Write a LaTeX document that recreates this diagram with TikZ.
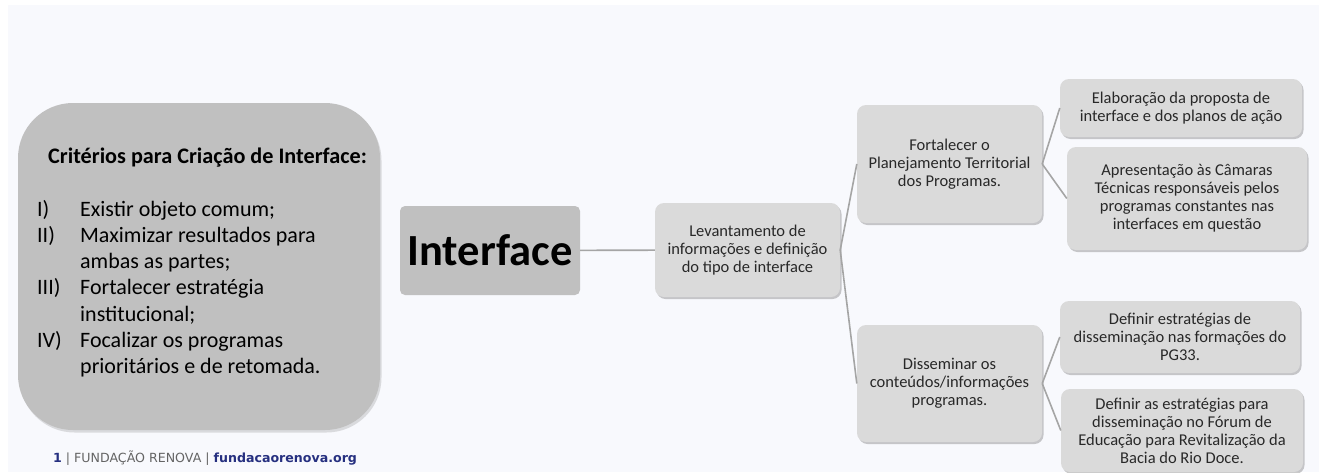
\documentclass[tikz,border=0pt]{standalone}
\usepackage{fontspec}
\setmainfont{Carlito}
\newfontfamily\footfont{DejaVu Sans}
\usetikzlibrary{shadows,positioning}

\definecolor{pagebg}{RGB}{248,249,253}
\definecolor{darkbox}{RGB}{192,192,192}
\definecolor{lightbox}{RGB}{218,218,218}
\definecolor{linkgray}{RGB}{165,165,165}
\definecolor{textgray}{RGB}{40,40,40}
\definecolor{footblue}{RGB}{38,48,128}
\definecolor{footgray}{RGB}{100,100,100}

\begin{document}
\begin{tikzpicture}[x=1pt,y=-1pt]
        \tikzstyle{every node}=[font=\fontsize{16.5}{18}\selectfont,text=textgray]
        \tikzstyle{topic}=[rectangle,rounded corners=9pt,fill=lightbox,inner sep=0pt,align=center,drop shadow={shadow xshift=1.5pt,shadow yshift=-2pt,opacity=0.35,fill=black!60}]
        \tikzstyle{link}=[draw=linkgray,line width=1.6pt]

        %%% Page
        \useasboundingbox (0,0) rectangle (1319,472);
        \fill[pagebg] (8,5) rectangle (1319,472);

        %%% Criteria
        \node[rectangle,rounded corners=55pt,fill=darkbox,minimum width=362pt,minimum height=327pt,drop shadow={shadow xshift=1.5pt,shadow yshift=-2.5pt,opacity=0.25,fill=black!50}] (criteria) at (199,266.5) {};
        \node[anchor=base west,inner sep=0pt,text=black,font=\fontsize{22.2}{26.5}\selectfont\bfseries] (criteriatitle) at (48,163) {Critérios para Criação de Interface:};
        \node[anchor=base west,inner sep=0pt,text=black,font=\fontsize{22}{26.3}\selectfont] (criterialist) at (37,216) {%
            \begin{tabular}[t]{@{}p{43pt}@{}l@{}}
            I)   & Existir objeto comum;\\
            II)  & Maximizar resultados para\\
                 & ambas as partes;\\
            III) & Fortalecer estratégia\\
                 & institucional;\\
            IV)  & Focalizar os programas\\
                 & prioritários e de retomada.
            \end{tabular}};
        \node[anchor=west,inner sep=0pt,font=\footfont\fontsize{12.6}{14}\selectfont] (footer) at (53,458) {\textcolor{footblue}{\textbf{1}} \textcolor{footgray}{| FUNDAÇÃO RENOVA |} \textcolor{footblue}{\textbf{fundacaorenova.org}}};

        %%% Mind map
        \node[rectangle,rounded corners=5pt,fill=darkbox,minimum width=180pt,minimum height=89pt,inner sep=0pt,text=black,font=\fontsize{44.5}{50}\selectfont\bfseries] (interface) at (490,250.5) {Interface};

        \node[topic,minimum width=185pt,minimum height=94pt] (levantamento) at (747.5,250) {Levantamento de\\informações e definição\\do tipo de interface};
        \node[topic,minimum width=185pt,minimum height=118pt] (fortalecer) at (949.5,164) {Fortalecer o\\Planejamento Territorial\\dos Programas.};
        \node[topic,minimum width=185pt,minimum height=117pt] (disseminar) at (949.5,383.5) {Disseminar os\\conteúdos/informações\\programas.};

        \node[topic,minimum width=242pt,minimum height=58pt] (elaboracao) at (1181,108) {Elaboração da proposta de\\interface e dos planos de ação};
        \node[topic,minimum width=240pt,minimum height=103pt] (apresentacao) at (1187,198.5) {Apresentação às Câmaras\\Técnicas responsáveis pelos\\programas constantes nas\\interfaces em questão};
        \node[topic,minimum width=240pt,minimum height=72pt] (formacoes) at (1180,337) {Definir estratégias de\\disseminação nas formações do\\PG33.};
        \node[topic,minimum width=242pt,minimum height=83pt] (forum) at (1182,430.5) {Definir as estratégias para\\disseminação no Fórum de\\Educação para Revitalização da\\Bacia do Rio Doce.};

        \draw[link] (interface) -- (levantamento);
        \draw[link] (levantamento.east) -- (fortalecer.west);
        \draw[link] (levantamento.east) -- (disseminar.west);
        \draw[link] (fortalecer.east) -- (elaboracao.west);
        \draw[link] (fortalecer.east) -- (apresentacao.west);
        \draw[link] (disseminar.east) -- (formacoes.west);
        \draw[link] (disseminar.east) -- (forum.west);
\end{tikzpicture}
\end{document}
